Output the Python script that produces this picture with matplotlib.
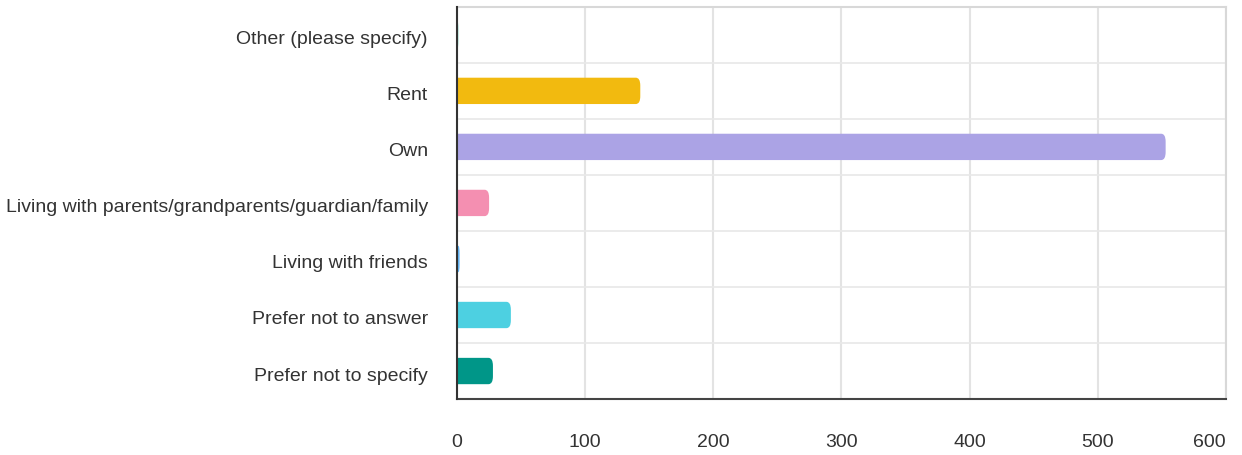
import numpy as np
import matplotlib.pyplot as plt
from matplotlib.patches import FancyBboxPatch
from matplotlib.transforms import ScaledTranslation

categories = ["Other (please specify)", "Rent", "Own",
              "Living with parents/grandparents/guardian/family",
              "Living with friends", "Prefer not to answer", "Prefer not to specify"]
values = [1, 143, 553, 25, 2, 42, 28]
colors = ["#6fd6bd", "#f2ba0f", "#aba3e5", "#f48fb1", "#64b5f6", "#4dd0e1", "#009688"]
xticks = [0, 100, 200, 300, 400, 500, 600]

fig = plt.figure(figsize=(12.42, 4.55), dpi=100)
ax = fig.add_axes([0.368, 0.123, 0.619, 0.862])

y = np.arange(len(categories))
bars = ax.barh(y, values, height=0.47, color=colors, zorder=3)

# rounded right ends
for b, c in zip(bars, colors):
    b.set_visible(False)
    x0, y0, w, h = b.get_x(), b.get_y(), b.get_width(), b.get_height()
    r = min(3.5, w / 2)
    p = FancyBboxPatch((x0 - 5, y0), w + 5, h,
                       boxstyle=f"round,pad=0,rounding_size={r}",
                       mutation_aspect=h / (r * 2) * 0.6 if r > 0 else 1,
                       fc=c, ec="none", zorder=3, clip_on=True)
    ax.add_patch(p)

ax.set_xlim(0, 600)
ax.set_ylim(len(categories) - 0.5, -0.5)
ax.set_xticks(xticks)
ax.set_yticks(y)
ax.set_yticklabels(categories)
ax.set_yticks(np.arange(len(categories) + 1) - 0.5, minor=True)

ax.grid(axis="x", color="#e3e3e3", linewidth=1.5, zorder=0)
ax.grid(axis="y", which="minor", color="#e8e8e8", linewidth=1.2, zorder=0)
ax.tick_params(axis="both", which="both", length=0)
ax.tick_params(axis="y", pad=21, labelsize=14, labelcolor="#333333")
ax.tick_params(axis="x", pad=25, labelsize=14, labelcolor="#333333")

for s in ["top", "right"]:
    ax.spines[s].set_color("#d8d8d8")
    ax.spines[s].set_linewidth(1.5)
ax.spines["left"].set_color("#333333")
ax.spines["left"].set_linewidth(1.5)
ax.spines["left"].set_zorder(4)
ax.spines["bottom"].set_color("#444444")
ax.spines["bottom"].set_linewidth(1.5)

shift = ScaledTranslation(0, -3 / 100, fig.dpi_scale_trans)
for lbl in ax.get_yticklabels():
    lbl.set_family(["Liberation Sans", "DejaVu Sans"])
    lbl.set_transform(lbl.get_transform() + shift)
for lbl in ax.get_xticklabels():
    lbl.set_family(["Liberation Sans", "DejaVu Sans"])
ax.get_xticklabels()[-1].set_ha("right")

fig.savefig("out.png", dpi=100)
